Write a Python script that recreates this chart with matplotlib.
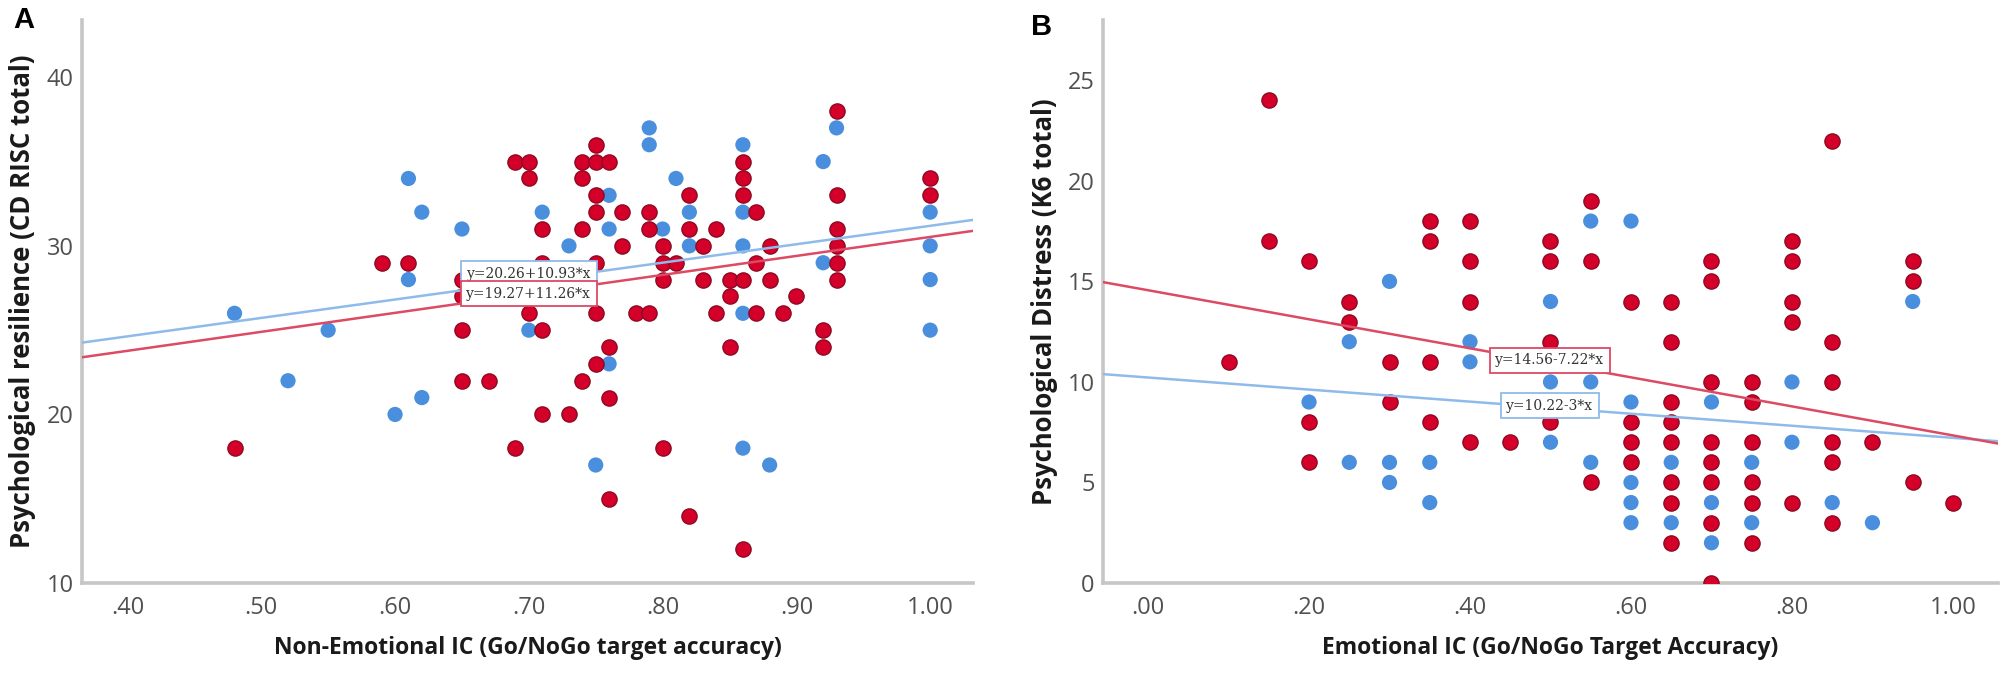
import matplotlib
matplotlib.use("Agg")
import matplotlib.pyplot as plt
import numpy as np

# ---------------- Panel A data (Non-emotional IC vs resilience) ----------------
a_blue_x = [0.48, 0.52, 0.55, 0.60, 0.61, 0.61, 0.62, 0.62, 0.65, 0.70, 0.71, 0.73,
            0.75, 0.76, 0.76, 0.76, 0.79, 0.79, 0.80, 0.81, 0.82, 0.82, 0.86, 0.86,
            0.86, 0.86, 0.86, 0.88, 0.92, 0.92, 0.93, 1.00, 1.00, 1.00, 1.00]
a_blue_y = [26, 22, 25, 20, 34, 28, 32, 21, 31, 25, 32, 30,
            17, 33, 31, 23, 37, 36, 31, 34, 32, 30, 36, 32,
            30, 26, 18, 17, 35, 29, 37, 32, 30, 28, 25]

a_red_x = [0.48, 0.59, 0.61, 0.65, 0.65, 0.65, 0.65, 0.67,
           0.69, 0.69, 0.70, 0.70, 0.70,
           0.71, 0.71, 0.71, 0.71, 0.73,
           0.74, 0.74, 0.74, 0.74,
           0.75, 0.75, 0.75, 0.75, 0.75, 0.75, 0.75,
           0.76, 0.76, 0.76, 0.76, 0.77, 0.77, 0.78,
           0.79, 0.79, 0.79, 0.80, 0.80, 0.80, 0.80, 0.81,
           0.82, 0.82, 0.82, 0.83, 0.83, 0.84, 0.84,
           0.85, 0.85, 0.85, 0.86, 0.86, 0.86, 0.86, 0.86,
           0.87, 0.87, 0.87, 0.88, 0.88, 0.89, 0.90, 0.92, 0.92,
           0.93, 0.93, 0.93, 0.93, 0.93, 0.93, 1.00, 1.00]
a_red_y = [18, 29, 29, 28, 27, 25, 22, 22,
           35, 18, 35, 34, 26,
           31, 29, 25, 20, 20,
           35, 34, 31, 22,
           36, 35, 33, 32, 29, 26, 23,
           35, 24, 21, 15, 32, 30, 26,
           32, 31, 26, 30, 29, 28, 18, 29,
           33, 31, 14, 30, 28, 31, 26,
           28, 27, 24, 35, 34, 33, 28, 12,
           32, 29, 26, 30, 28, 26, 27, 25, 24,
           38, 33, 31, 30, 29, 28, 34, 33]

a_fit_red = [19.27, 11.26]     # intercept, slope
a_fit_blue = [20.26, 10.93]
a_lbl_red = "y=19.27+11.26*x"
a_lbl_blue = "y=20.26+10.93*x"

# ---------------- Panel B data (Emotional IC vs distress) ----------------
b_blue_x = [0.25, 0.40, 0.40, 0.30, 0.20, 0.25, 0.30, 0.35, 0.30, 0.35,
            0.55, 0.60, 0.95, 0.50, 0.50, 0.55, 0.80, 0.60, 0.70, 0.50,
            0.80, 0.55, 0.65, 0.75, 0.60, 0.60, 0.70, 0.85, 0.60, 0.65,
            0.75, 0.90, 0.70]
b_blue_y = [12, 12, 11, 15, 9, 6, 6, 6, 5, 4,
            18, 18, 14, 14, 10, 10, 10, 9, 9, 7,
            7, 6, 6, 6, 5, 4, 4, 4, 3, 3,
            3, 3, 2]

b_red_x = [0.15, 0.15, 0.20, 0.25, 0.25, 0.35, 0.35, 0.40, 0.40, 0.40,
           0.10, 0.30, 0.35, 0.30, 0.20, 0.35, 0.40, 0.45, 0.20,
           0.85, 0.55, 0.50, 0.50, 0.55, 0.70, 0.70, 0.80, 0.80, 0.80, 0.80,
           0.95, 0.95, 0.60, 0.65, 0.50, 0.65, 0.85,
           0.70, 0.75, 0.85, 0.65, 0.75, 0.50, 0.60, 0.65,
           0.60, 0.65, 0.70, 0.75, 0.85, 0.90,
           0.60, 0.70, 0.85, 0.55, 0.65, 0.70, 0.75, 0.95,
           0.65, 0.75, 0.80, 1.00, 0.70, 0.85, 0.65, 0.75, 0.70]
b_red_y = [24, 17, 16, 14, 13, 18, 17, 18, 16, 14,
           11, 11, 11, 9, 8, 8, 7, 7, 6,
           22, 19, 17, 16, 16, 16, 15, 17, 16, 14, 13,
           16, 15, 14, 14, 12, 12, 12,
           10, 10, 10, 9, 9, 8, 8, 8,
           7, 7, 7, 7, 7, 7,
           6, 6, 6, 5, 5, 5, 5, 5,
           4, 4, 4, 4, 3, 3, 2, 2, 0]

b_fit_red = [14.56, -7.22]
b_fit_blue = [10.22, -3.0]
b_lbl_red = "y=14.56-7.22*x"
b_lbl_blue = "y=10.22-3*x"

# ---------------- styling ----------------
RED = "#d4002a"
RED_EDGE = "#8c0a22"
BLUE = "#4a8fdd"
RED_LINE = "#dc4a64"
BLUE_LINE = "#8fbbea"
SPINE = "#c6c6c6"
TICKC = "#505050"
LABC = "#1a1a1a"
FONT = "Open Sans"

fig = plt.figure(figsize=(20.08, 6.73), dpi=100)


def fmt(v):
    s = f"{v:.2f}"
    return s[1:] if s.startswith("0") else s


def setup(ax, xlim, ylim, xticks, yticks, xlabel, ylabel, ylab_x):
    ax.set_xlim(*xlim)
    ax.set_ylim(*ylim)
    for s in ("top", "right"):
        ax.spines[s].set_visible(False)
    for s in ("left", "bottom"):
        ax.spines[s].set_color(SPINE)
        ax.spines[s].set_linewidth(2.6)
    ax.set_xticks(xticks)
    ax.set_xticklabels([fmt(v) for v in xticks])
    ax.set_yticks(yticks)
    ax.set_yticklabels([str(v) for v in yticks])
    ax.tick_params(length=0, labelsize=17, labelcolor=TICKC)
    ax.tick_params(axis="x", pad=9)
    ax.tick_params(axis="y", pad=6)
    for t in ax.get_xticklabels() + ax.get_yticklabels():
        t.set_family(FONT)
    ax.set_xlabel(xlabel, fontsize=16.5, fontweight="bold", color=LABC,
                  family=FONT, va="center")
    ax.set_ylabel(ylabel, fontsize=18.5, fontweight="bold", color=LABC,
                  family=FONT, va="center")
    ax.xaxis.set_label_coords(0.5, -65 / 563)
    ax.yaxis.set_label_coords(ylab_x, 0.5)


def draw(ax, bx, by, rx, ry, fit_r, fit_b, lbl_r, lbl_b, pos_r, pos_b):
    ax.scatter(bx, by, s=120, color=BLUE, edgecolors="none", zorder=3)
    ax.scatter(rx, ry, s=120, color=RED, edgecolors=RED_EDGE, linewidths=1.0,
               zorder=3)
    xs = np.array(ax.get_xlim())
    ax.plot(xs, fit_b[0] + fit_b[1] * xs, color=BLUE_LINE, lw=1.8, zorder=4)
    ax.plot(xs, fit_r[0] + fit_r[1] * xs, color=RED_LINE, lw=1.8, zorder=4)
    ax.text(pos_b[0], pos_b[1], lbl_b, fontsize=10, color="#333333",
            family="DejaVu Serif", ha="center", va="center", zorder=5,
            bbox=dict(boxstyle="square,pad=0.4", fc="white", ec=BLUE_LINE, lw=1.3))
    ax.text(pos_r[0], pos_r[1], lbl_r, fontsize=10, color="#333333",
            family="DejaVu Serif", ha="center", va="center", zorder=6,
            bbox=dict(boxstyle="square,pad=0.4", fc="white", ec=RED_LINE, lw=1.3))


axA = fig.add_axes([82 / 2008, 90 / 673, 891 / 2008, 563 / 673])
setup(axA, (0.366, 1.032), (10, 43.4), [0.4, 0.5, 0.6, 0.7, 0.8, 0.9, 1.0],
      [10, 20, 30, 40], "Non-Emotional IC (Go/NoGo target accuracy)",
      "Psychological resilience (CD RISC total)", (23 - 82) / 891)
draw(axA, a_blue_x, a_blue_y, a_red_x, a_red_y, a_fit_red, a_fit_blue,
     a_lbl_red, a_lbl_blue, (0.700, 27.15), (0.700, 28.35))

axB = fig.add_axes([1103 / 2008, 90 / 673, 895 / 2008, 563 / 673])
setup(axB, (-0.056, 1.056), (0, 28.0), [0.0, 0.2, 0.4, 0.6, 0.8, 1.0],
      [0, 5, 10, 15, 20, 25], "Emotional IC (Go/NoGo Target Accuracy)",
      "Psychological Distress (K6 total)", (1045 - 1103) / 895)
draw(axB, b_blue_x, b_blue_y, b_red_x, b_red_y, b_fit_red, b_fit_blue,
     b_lbl_red, b_lbl_blue, (0.499, 11.08), (0.499, 8.82))

fig.text(13 / 2008, 1 - 28 / 673, "A", fontsize=21, fontweight="bold",
         family="Liberation Sans", ha="left", va="baseline")
fig.text(1031 / 2008, 1 - 35 / 673, "B", fontsize=21, fontweight="bold",
         family="Liberation Sans", ha="left", va="baseline")

fig.savefig("out.png", dpi=100)
